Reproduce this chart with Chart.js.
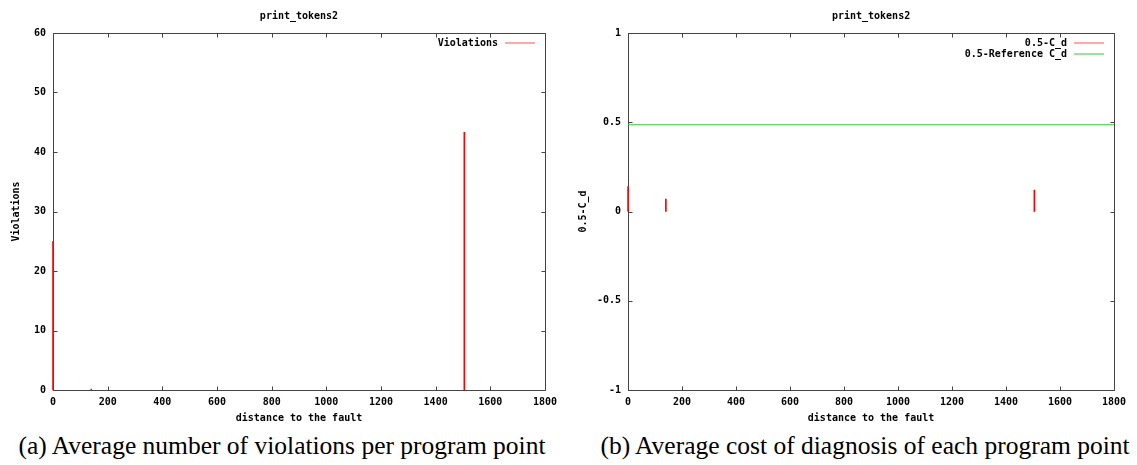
<!DOCTYPE html>
<html lang="en">
<head>
<meta charset="UTF-8">
<title>print_tokens2</title>
<script src="https://cdn.jsdelivr.net/npm/chart.js"></script>
<style>
body { margin: 0; background: #fff; width: 1137px; height: 465px; position: relative; overflow: hidden; }
canvas { position: absolute; top: 0; }
#violationsChart { left: 0; }
#costChart { left: 568px; }
.caption {
    position: absolute;
    top: 431px;
    font-family: 'Liberation Serif', 'DejaVu Serif', serif;
    font-size: 25.5px;
    line-height: 30px;
    color: #000;
    white-space: nowrap;
    transform: translateX(-50%);
}
</style>
</head>
<body>
<canvas id="violationsChart" width="563" height="424"></canvas>
<canvas id="costChart" width="569" height="424"></canvas>
<div class="caption" style="left:282px">(a) Average number of violations per program point</div>
<div class="caption" style="left:865px">(b) Average cost of diagnosis of each program point</div>

<script>
// data
const distanceTicks = [0, 200, 400, 600, 800, 1000, 1200, 1400, 1600, 1800];
const violationTicks = [0, 10, 20, 30, 40, 50, 60];
const costTicks = [-1, -0.5, 0, 0.5, 1];

const violationX = [0, 140, 1505];
const violationY = [25, 0.15, 43.3];

const costX = [0, 140, 1505];
const costY = [0.14, 0.07, 0.12];

const referenceX = [0, 1800];
const referenceY = [0.486, 0.486];

Chart.defaults.font.family = "'DejaVu Sans Mono', monospace";
Chart.defaults.font.size = 10;
Chart.defaults.font.weight = 'bold';
Chart.defaults.color = '#000';

function pts(xs, ys) {
    return xs.map((x, i) => ({ x: x, y: ys[i] }));
}

// gnuplot style box with inward ticks on all sides
const gnuFrame = {
    id: 'gnuFrame',
    beforeDatasetsDraw(chart) {
        const { ctx, chartArea: a, scales } = chart;
        const l = Math.round(a.left) + 0.5, r = Math.round(a.right) + 0.5;
        const t = Math.round(a.top) + 0.5, b = Math.round(a.bottom) + 0.5;
        ctx.save();
        ctx.strokeStyle = '#444';
        ctx.lineWidth = 1;
        ctx.beginPath();
        ctx.rect(l, t, r - l, b - t);
        scales.x.ticks.forEach(tk => {
            const px = Math.round(scales.x.getPixelForValue(tk.value)) + 0.5;
            ctx.moveTo(px, b); ctx.lineTo(px, b - 4);
            ctx.moveTo(px, t); ctx.lineTo(px, t + 4);
        });
        scales.y.ticks.forEach(tk => {
            const py = Math.round(scales.y.getPixelForValue(tk.value)) + 0.5;
            ctx.moveTo(l, py); ctx.lineTo(l + 4, py);
            ctx.moveTo(r, py); ctx.lineTo(r - 4, py);
        });
        ctx.stroke();
        ctx.restore();
    },
    afterDatasetsDraw(chart) {
        const { ctx, chartArea: a } = chart;
        ctx.save();
        ctx.font = "bold 10px 'DejaVu Sans Mono'";
        ctx.textAlign = 'right';
        ctx.textBaseline = 'middle';
        chart.data.datasets.forEach((ds, i) => {
            const y = Math.round(a.top + 10 + i * 11);
            ctx.fillStyle = '#000';
            ctx.fillText(ds.label, a.right - 47, y);
            ctx.strokeStyle = ds.legendColor;
            ctx.lineWidth = 1;
            ctx.beginPath();
            ctx.moveTo(a.right - 40, y);
            ctx.lineTo(a.right - 10, y);
            ctx.stroke();
        });
        ctx.restore();
    }
};

function makeOptions(yTicks, yTitle, yTitlePad, rightPad) {
    return {
        responsive: false,
        animation: false,
        layout: { padding: { left: 0, right: rightPad, top: 0, bottom: 0 } },
        plugins: {
            legend: { display: false },
            tooltip: { enabled: false },
            title: {
                display: true,
                text: 'print_tokens2',
                fullSize: false,
                padding: { top: 10, bottom: 11 },
                font: { size: 10, weight: 'bold' },
                color: '#000'
            }
        },
        scales: {
            x: {
                type: 'linear',
                offset: false,
                min: 0,
                max: 1800,
                afterBuildTicks: s => { s.ticks = distanceTicks.map(v => ({ value: v })); },
                ticks: { padding: 6, callback: v => String(v), maxRotation: 0 },
                grid: { display: false, drawTicks: false, offset: false },
                border: { display: false },
                title: { display: true, text: 'distance to the fault', padding: { top: -2, bottom: 0 } }
            },
            y: {
                type: 'linear',
                min: yTicks[0],
                max: yTicks[yTicks.length - 1],
                afterBuildTicks: s => { s.ticks = yTicks.map(v => ({ value: v })); },
                ticks: { padding: 7, callback: v => String(v) },
                grid: { display: false, drawTicks: false },
                border: { display: false },
                title: { display: true, text: yTitle, padding: yTitlePad }
            }
        }
    };
}

new Chart(document.getElementById('violationsChart'), {
    type: 'bar',
    data: {
        datasets: [{
            label: 'Violations',
            data: pts(violationX, violationY),
            backgroundColor: '#ff0000',
            legendColor: '#ff5050',
            barThickness: 1,
            borderWidth: 0,
            clip: 3
        }]
    },
    options: makeOptions(violationTicks, 'Violations', { top: 10, bottom: 5 }, 15),
    plugins: [gnuFrame]
});

new Chart(document.getElementById('costChart'), {
    type: 'bar',
    data: {
        datasets: [{
            label: '0.5-C_d',
            data: pts(costX, costY),
            backgroundColor: '#ff0000',
            legendColor: '#ff5050',
            barThickness: 1,
            borderWidth: 0,
            clip: 3
        }, {
            type: 'line',
            label: '0.5-Reference C_d',
            data: pts(referenceX, referenceY),
            borderColor: '#33cc33',
            legendColor: '#33cc33',
            borderWidth: 1,
            pointRadius: 0,
            fill: false
        }]
    },
    options: makeOptions(costTicks, '0.5-C_d', { top: 9, bottom: 1 }, 23),
    plugins: [gnuFrame]
});
</script>
</body>
</html>
